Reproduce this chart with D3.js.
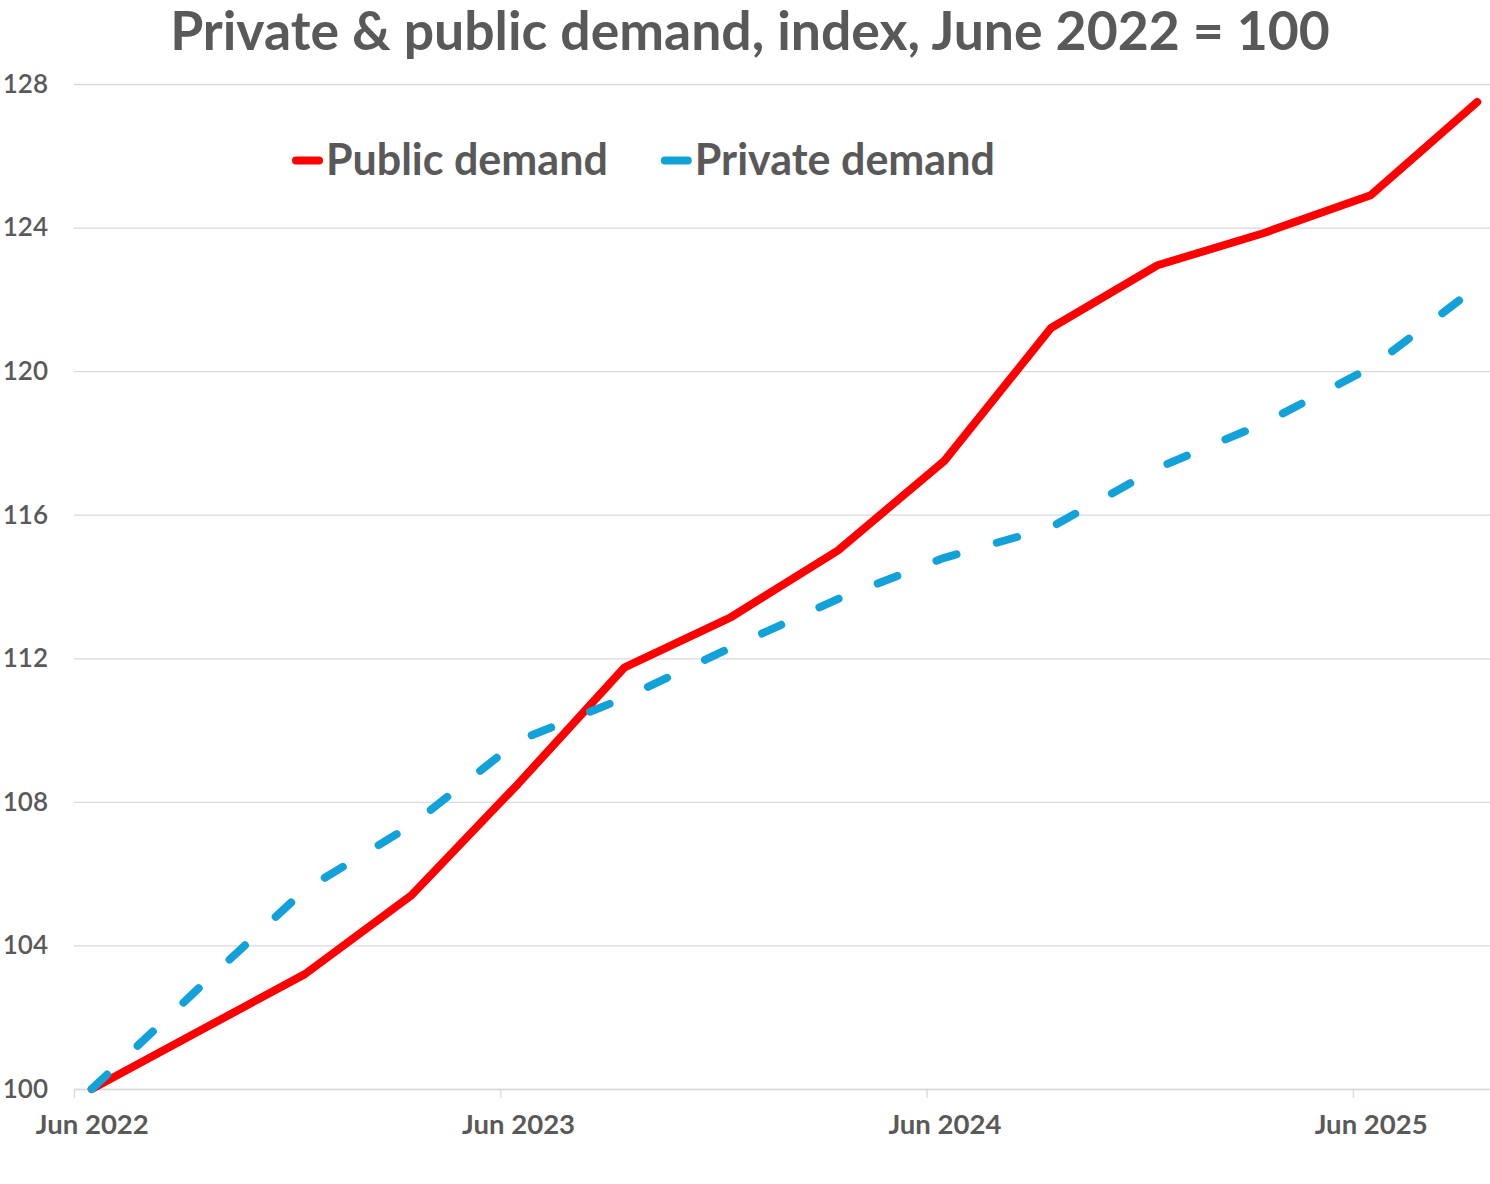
<!DOCTYPE html>
<html>
<head>
<meta charset="utf-8">
<script src="https://cdn.jsdelivr.net/npm/d3@7/dist/d3.min.js"></script>
<style>
    body { margin: 0; background: #fff; overflow: hidden; }
    text { font-family: Lato, "Open Sans", sans-serif; fill: #595959; }
</style>
</head>
<body>
<div id="chart"></div>
<script>
// quarterly observations, index June 2022 = 100
var quarters      = ["2022-06", "2022-09", "2022-12", "2023-03", "2023-06", "2023-09", "2023-12",
                     "2024-03", "2024-06", "2024-09", "2024-12", "2025-03", "2025-06", "2025-09"];
var publicDemand  = [100, 101.6, 103.2, 105.4, 108.5, 111.75, 113.15,
                     115.0, 117.5, 121.2, 122.95, 123.85, 124.9, 127.5];
var privateDemand = [100, 102.8, 105.55, 107.35, 109.7, 110.9, 112.3,
                     113.65, 114.8, 115.65, 117.3, 118.55, 120.1, 122.35];
var yTicks        = [100, 104, 108, 112, 116, 120, 124, 128];
var xTickMonths   = ["2022-06", "2023-06", "2024-06", "2025-06"];
var xTickLabels   = ["Jun 2022", "Jun 2023", "Jun 2024", "Jun 2025"];
var seriesNames   = ["Public demand", "Private demand"];

(function () {
    var W = 1490, H = 1184;
    // plot runs a few px past the right edge, like the original export
    var margin = { top: 84, right: -5, bottom: 95, left: 74 };
    var iW = W - margin.left - margin.right;
    var iH = H - margin.top - margin.bottom;
    var MONTHS = 40; // Jun 2022 .. Sep 2025 on a monthly date axis

    // month offset from Jun 2022
    function monthIdx(s) {
        var p = s.split("-");
        return (+p[0] - 2022) * 12 + (+p[1] - 6);
    }

    var svg = d3.select("#chart").append("svg")
        .attr("width", W).attr("height", H);

    var g = svg.append("g")
        .attr("transform", "translate(" + margin.left + "," + margin.top + ")");

    var x = d3.scaleLinear().domain([0, MONTHS]).range([0, iW]);
    var y = d3.scaleLinear().domain([100, 128]).range([iH, 0]);
    var halfMonth = x(0.5) - x(0);

    // gridlines + y labels
    var yAxis = g.append("g").attr("class", "axis-y")
        .call(d3.axisLeft(y).tickValues(yTicks).tickSize(-iW).tickPadding(26));
    yAxis.select(".domain").remove();
    yAxis.selectAll("line").attr("stroke", "#d9d9d9").attr("stroke-width", 1.3);
    yAxis.selectAll("text")
        .style("font-family", "Lato, sans-serif")
        .style("font-size", "26px")
        .style("font-weight", "600")
        .style("fill", "#595959");

    // x axis, labels sit in the middle of the month
    var xAxis = g.append("g").attr("class", "axis-x")
        .attr("transform", "translate(0," + iH + ")")
        .call(d3.axisBottom(x)
            .tickValues(xTickMonths.map(monthIdx))
            .tickSize(9).tickSizeOuter(0)
            .tickFormat(function (d, i) { return xTickLabels[i]; }));
    xAxis.select(".domain").attr("stroke", "#d9d9d9").attr("stroke-width", 1.3);
    xAxis.selectAll("line").attr("stroke", "#d9d9d9").attr("stroke-width", 1.3);
    xAxis.selectAll("text")
        .attr("x", halfMonth)
        .attr("y", 25)
        .style("font-family", "Lato, sans-serif")
        .style("font-size", "27.5px")
        .style("font-weight", "700")
        .style("fill", "#595959");

    // lines
    var line = d3.line()
        .x(function (d) { return x(d.m + 0.5); })
        .y(function (d) { return y(d.v); });

    function pts(vals) {
        return vals.map(function (v, i) { return { m: monthIdx(quarters[i]), v: v }; });
    }

    g.append("path")
        .datum(pts(publicDemand))
        .attr("fill", "none")
        .attr("stroke", "#ff0000")
        .attr("stroke-width", 8)
        .attr("stroke-linejoin", "round")
        .attr("stroke-linecap", "round")
        .attr("d", line);

    g.append("path")
        .datum(pts(privateDemand))
        .attr("fill", "none")
        .attr("stroke", "#12a1d9")
        .attr("stroke-width", 8)
        .attr("stroke-linejoin", "round")
        .attr("stroke-linecap", "round")
        .attr("stroke-dasharray", "21 42")
        .attr("d", line);

    // title
    svg.append("text")
        .attr("x", 750).attr("y", 50)
        .attr("text-anchor", "middle")
        .style("font-size", "53.5px")
        .style("font-weight", "700")
        .text("Private & public demand, index, June 2022 = 100");

    // legend
    var legend = svg.append("g").attr("transform", "translate(296,175)");
    var colors = ["#ff0000", "#12a1d9"];
    var lx = 0;
    seriesNames.forEach(function (name, i) {
        var it = legend.append("g").attr("transform", "translate(" + lx + ",0)");
        it.append("line")
            .attr("x1", 0).attr("x2", 23)
            .attr("y1", -14.5).attr("y2", -14.5)
            .attr("stroke", colors[i])
            .attr("stroke-width", 8)
            .attr("stroke-linecap", "round");
        var t = it.append("text")
            .attr("x", 30).attr("y", 0)
            .style("font-size", "43px")
            .style("font-weight", "700")
            .text(name);
        lx += 30 + t.node().getComputedTextLength() + 57;
    });
}());
</script>
</body>
</html>
